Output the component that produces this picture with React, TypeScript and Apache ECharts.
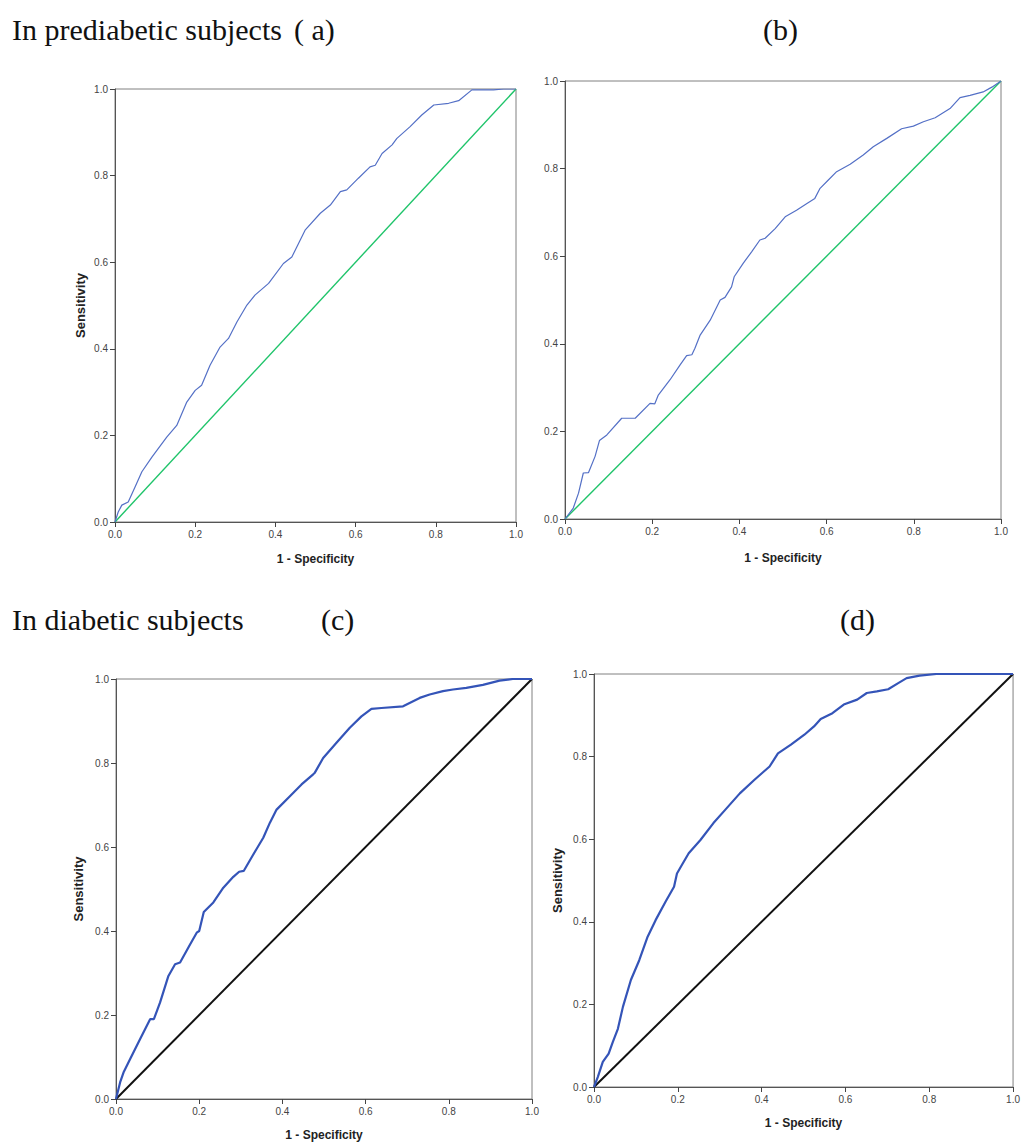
import React, { useEffect, useRef } from "react";
import * as echarts from "echarts";

// ROC curve points [1 - Specificity, Sensitivity]
const rocA: number[][] = [
  [0, 0], [0.008, 0.023], [0.017, 0.039], [0.033, 0.046], [0.05, 0.081], [0.067, 0.116],
  [0.092, 0.15], [0.129, 0.196], [0.154, 0.223], [0.179, 0.277], [0.2, 0.304], [0.216, 0.316],
  [0.237, 0.362], [0.262, 0.404], [0.283, 0.424], [0.304, 0.462], [0.329, 0.501], [0.349, 0.524],
  [0.383, 0.551], [0.42, 0.597], [0.441, 0.612], [0.474, 0.674], [0.512, 0.713], [0.537, 0.732],
  [0.562, 0.763], [0.578, 0.767], [0.607, 0.794], [0.636, 0.82], [0.649, 0.824], [0.666, 0.851],
  [0.691, 0.871], [0.703, 0.886], [0.736, 0.913], [0.765, 0.94], [0.795, 0.963], [0.832, 0.967],
  [0.857, 0.973], [0.89, 0.998], [0.944, 0.998], [0.969, 1.0], [1, 1],
];

const rocB: number[][] = [
  [0, 0], [0.019, 0.025], [0.031, 0.059], [0.042, 0.105], [0.054, 0.106], [0.069, 0.143],
  [0.079, 0.179], [0.096, 0.192], [0.13, 0.23], [0.161, 0.23], [0.195, 0.264], [0.206, 0.263],
  [0.214, 0.283], [0.241, 0.318], [0.264, 0.352], [0.279, 0.373], [0.291, 0.375], [0.298, 0.39],
  [0.31, 0.42], [0.333, 0.454], [0.356, 0.5], [0.367, 0.506], [0.382, 0.53], [0.388, 0.553],
  [0.409, 0.584], [0.428, 0.61], [0.447, 0.637], [0.459, 0.641], [0.482, 0.663], [0.505, 0.69],
  [0.531, 0.705], [0.554, 0.72], [0.573, 0.732], [0.585, 0.755], [0.604, 0.774], [0.623, 0.793],
  [0.654, 0.81], [0.684, 0.831], [0.707, 0.85], [0.738, 0.869], [0.772, 0.891], [0.799, 0.897],
  [0.822, 0.907], [0.849, 0.916], [0.883, 0.937], [0.906, 0.962], [0.929, 0.967], [0.959, 0.975],
  [0.979, 0.986], [1, 1],
];

const rocC: number[][] = [
  [0, 0], [0.01, 0.04], [0.018, 0.063], [0.034, 0.095], [0.058, 0.143], [0.082, 0.19],
  [0.091, 0.19], [0.106, 0.23], [0.126, 0.293], [0.142, 0.321], [0.154, 0.325], [0.178, 0.368],
  [0.194, 0.396], [0.2, 0.4], [0.211, 0.445], [0.234, 0.468], [0.258, 0.503], [0.282, 0.529],
  [0.296, 0.541], [0.307, 0.543], [0.33, 0.582], [0.354, 0.622], [0.37, 0.658], [0.386, 0.689],
  [0.418, 0.721], [0.446, 0.749], [0.474, 0.773], [0.478, 0.777], [0.498, 0.812], [0.53, 0.848],
  [0.562, 0.884], [0.59, 0.911], [0.614, 0.929], [0.638, 0.931], [0.69, 0.935], [0.73, 0.955],
  [0.754, 0.963], [0.786, 0.971], [0.81, 0.975], [0.842, 0.979], [0.882, 0.986], [0.922, 0.996],
  [0.954, 1.0], [1, 1],
];

const rocD: number[][] = [
  [0, 0], [0.009, 0.024], [0.021, 0.061], [0.035, 0.081], [0.045, 0.109], [0.057, 0.141],
  [0.069, 0.194], [0.088, 0.259], [0.108, 0.307], [0.128, 0.364], [0.147, 0.404], [0.171, 0.449],
  [0.191, 0.485], [0.198, 0.517], [0.21, 0.538], [0.226, 0.566], [0.254, 0.598], [0.285, 0.639],
  [0.313, 0.671], [0.348, 0.711], [0.383, 0.744], [0.419, 0.776], [0.439, 0.808], [0.47, 0.829],
  [0.502, 0.853], [0.525, 0.873], [0.541, 0.891], [0.569, 0.905], [0.596, 0.926], [0.628, 0.938],
  [0.651, 0.954], [0.675, 0.958], [0.702, 0.963], [0.726, 0.978], [0.746, 0.99], [0.777, 0.996],
  [0.817, 1.0], [1, 1],
];

const referenceLine: number[][] = [[0, 0], [1, 1]];

const tickLabels = ["0.0", "0.2", "0.4", "0.6", "0.8", "1.0"];

const panelTitles = ["In prediabetic subjects", "In diabetic subjects"];
const panelLetters = ["( a)", "(b)", "(c)", "(d)"];

const xAxisName = "1 - Specificity";
const yAxisName = "Sensitivity";

export default function App() {
  const ref = useRef<HTMLDivElement>(null);

  useEffect(() => {
    if (!ref.current) return;
    document.body.style.margin = "0";
    const chart = echarts.init(ref.current, undefined, { renderer: "svg" });

    const grids = [
      { left: 115, top: 89, width: 401, height: 433 },
      { left: 565, top: 81, width: 436, height: 438 },
      { left: 116, top: 679, width: 416, height: 421 },
      { left: 594, top: 674, width: 424, height: 413 },
    ];
    const showYName = [true, false, true, true];
    const xNameGap = [31, 33, 30, 30];
    const yNameGap = [28, 28, 31, 30];

    const fmt = (v: number) => tickLabels[Math.round(v / 0.2)] ?? "";

    const xAxes = grids.map((_, i) => ({
      type: "value",
      gridIndex: i,
      min: 0,
      max: 1,
      interval: 0.2,
      name: xAxisName,
      nameLocation: "middle",
      nameGap: xNameGap[i],
      nameTextStyle: { fontFamily: "Liberation Sans", fontWeight: "bold", fontSize: 12, color: "#222" },
      axisLine: { show: true, lineStyle: { color: "#555", width: 1 } },
      axisTick: { show: true, length: 5, inside: false, lineStyle: { color: "#444" } },
      axisLabel: { formatter: fmt, fontSize: 10, color: "#444", margin: 7, fontFamily: "Liberation Sans" },
      splitLine: { show: false },
    }));

    const yAxes = grids.map((_, i) => ({
      type: "value",
      gridIndex: i,
      min: 0,
      max: 1,
      interval: 0.2,
      name: showYName[i] ? yAxisName : "",
      nameLocation: "middle",
      nameGap: yNameGap[i],
      nameRotate: 90,
      nameTextStyle: { fontFamily: "Liberation Sans", fontWeight: "bold", fontSize: 13, color: "#222" },
      axisLine: { show: true, lineStyle: { color: "#555", width: 1 } },
      axisTick: { show: true, length: 5, inside: false, lineStyle: { color: "#444" } },
      axisLabel: { formatter: fmt, fontSize: 10, color: "#444", margin: 7, fontFamily: "Liberation Sans" },
      splitLine: { show: false },
    }));

    const curves = [rocA, rocB, rocC, rocD];
    const curveColor = ["#5470c6", "#5470c6", "#3454b8", "#3454b8"];
    const curveWidth = [1.2, 1.2, 2.2, 2.2];
    const diagColor = ["#1fc46a", "#1fc46a", "#111111", "#111111"];
    const diagWidth = [1.4, 1.4, 2, 2];

    const series: any[] = [];
    curves.forEach((c, i) => {
      series.push({
        type: "line",
        xAxisIndex: i,
        yAxisIndex: i,
        data: referenceLine,
        showSymbol: false,
        symbol: "none",
        lineStyle: { color: diagColor[i], width: diagWidth[i] },
        z: 2,
      });
      series.push({
        type: "line",
        xAxisIndex: i,
        yAxisIndex: i,
        data: c,
        showSymbol: false,
        symbol: "none",
        lineStyle: { color: curveColor[i], width: curveWidth[i] },
        z: 3,
      });
    });

    const serif = '"Liberation Serif", "Times New Roman", serif';
    const titleFont = `30px ${serif}`;
    const textEl = (text: string, x: number, y: number) => ({
      type: "text",
      x,
      y,
      style: { text, font: titleFont, fill: "#111", textVerticalAlign: "middle", verticalAlign: "middle" },
    });

    chart.setOption({
      animation: false,
      backgroundColor: "#ffffff",
      grid: grids.map((g) => ({ ...g, show: true, borderColor: "#808080", borderWidth: 1, backgroundColor: "transparent" })),
      xAxis: xAxes,
      yAxis: yAxes,
      series,
      graphic: [
        textEl(panelTitles[0], 12, 29),
        textEl(panelLetters[0], 294, 29),
        textEl(panelLetters[1], 763, 29),
        textEl(panelTitles[1], 12, 619),
        textEl(panelLetters[2], 321, 619),
        textEl(panelLetters[3], 840, 619),
      ],
    });

    return () => chart.dispose();
  }, []);

  return (
    <div
      ref={ref}
      style={{ position: "absolute", left: 0, top: 0, width: 1023, height: 1142, background: "#fff" }}
    />
  );
}
